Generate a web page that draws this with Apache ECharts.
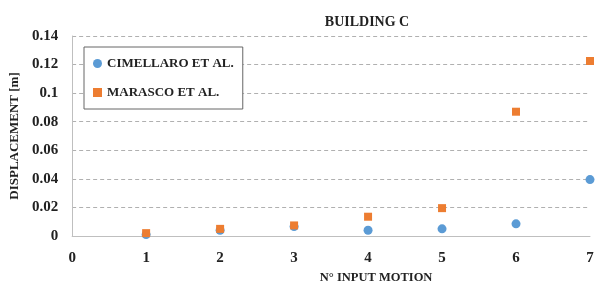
<!DOCTYPE html>
<html><head><meta charset="utf-8">
<script src="https://cdn.jsdelivr.net/npm/echarts@6/dist/echarts.min.js"></script>
<style>html,body{margin:0;padding:0;background:#fff}#c{width:607px;height:289px}</style>
</head><body><div id="c"></div>
<script>
const inputMotion = [1, 2, 3, 4, 5, 6, 7];
const cimellaro = [0.001, 0.004, 0.0066, 0.004, 0.005, 0.0085, 0.0395];
const marasco = [0.002, 0.005, 0.0074, 0.0135, 0.0195, 0.087, 0.1225];
const yTicks = ['0', '0.02', '0.04', '0.06', '0.08', '0.1', '0.12', '0.14'];

const font = '"Liberation Serif", "DejaVu Serif", serif';
const chart = echarts.init(document.getElementById('c'));
chart.setOption({
  animation: false,
  title: { text: 'BUILDING C', left: 362, top: 10, textAlign: 'center',
    textStyle: { fontFamily: font, fontWeight: 'bold', fontSize: 14, color: '#222' } },
  grid: { left: 72, right: 17, top: 36, bottom: 50 },
  legend: {
    orient: 'vertical', left: 84, top: 47,
    backgroundColor: '#fff', borderColor: '#666', borderWidth: 1,
    padding: [10, 9, 10, 9], itemGap: 16, itemWidth: 9, itemHeight: 9,
    textStyle: { fontFamily: font, fontWeight: 'bold', fontSize: 13, color: '#222' },
    data: [{ name: 'CIMELLARO ET AL.', icon: 'circle' }, { name: 'MARASCO ET AL.', icon: 'rect' }]
  },
  xAxis: {
    type: 'value', min: 0, max: 7, interval: 1,
    name: 'N° INPUT MOTION', nameLocation: 'middle', nameGap: 35,
    nameTextStyle: { fontFamily: font, fontWeight: 'bold', fontSize: 12.5, color: '#222', padding: [0, 0, 0, 90] },
    axisLine: { show: true, lineStyle: { color: '#bfbfbf' } },
    axisTick: { show: false }, splitLine: { show: false },
    axisLabel: { fontFamily: font, fontWeight: 'bold', fontSize: 15, color: '#222', margin: 15 }
  },
  yAxis: {
    type: 'value', min: 0, max: 0.14, interval: 0.02,
    name: 'DISPLACEMENT [m]', nameLocation: 'middle', nameGap: 51,
    nameTextStyle: { fontFamily: font, fontWeight: 'bold', fontSize: 13, color: '#222' },
    axisLine: { show: true, lineStyle: { color: '#bfbfbf' } },
    axisTick: { show: false },
    splitLine: { lineStyle: { color: '#b0b0b0', type: [4, 3] } },
    axisLabel: { fontFamily: font, fontWeight: 'bold', fontSize: 15, color: '#222', margin: 14,
      formatter: (v, i) => yTicks[i] }
  },
  series: [
    { name: 'CIMELLARO ET AL.', type: 'scatter', symbol: 'circle', symbolSize: 9,
      itemStyle: { color: '#5B9BD5', opacity: 1 }, data: inputMotion.map((x, i) => [x, cimellaro[i]]) },
    { name: 'MARASCO ET AL.', type: 'scatter', symbol: 'rect', symbolSize: 8,
      itemStyle: { color: '#ED7D31', opacity: 1 }, data: inputMotion.map((x, i) => [x, marasco[i]]) }
  ]
});
</script></body></html>
